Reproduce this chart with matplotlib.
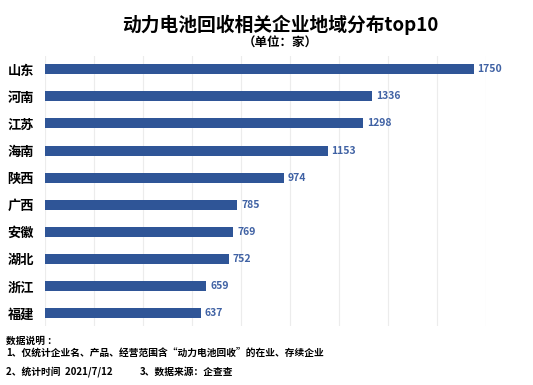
import matplotlib
matplotlib.use("Agg")
import matplotlib.pyplot as plt
from matplotlib.ticker import MultipleLocator

plt.rcParams['font.family'] = ['Noto Sans CJK SC', 'DejaVu Sans']

provinces = ["山东", "河南", "江苏", "海南", "陕西", "广西", "安徽", "湖北", "浙江", "福建"]
counts = [1750, 1336, 1298, 1153, 974, 785, 769, 752, 659, 637]

BAR = "#2f5597"
LABEL = "#4062a4"

fig = plt.figure(figsize=(5.33, 3.85), dpi=100)
ax = fig.add_axes([0.0844, 0.152, 0.8275, 0.703])

ypos = list(range(len(provinces)))
ax.barh(ypos, counts, height=0.37, color=BAR, zorder=3)
for y, v in zip(ypos, counts):
    ax.text(v + 15, y, str(v), va="center", ha="left", fontsize=7.5,
            color=LABEL, fontweight="bold", clip_on=False)

ax.set_xlim(0, 1800)
ax.set_ylim(len(provinces) - 0.5, -0.5)
ax.xaxis.set_major_locator(MultipleLocator(200))
ax.grid(axis="x", color="#ececec", linewidth=0.8, zorder=0)
ax.set_xticklabels([])
ax.tick_params(axis="x", length=0)
ax.tick_params(axis="y", length=0, pad=8)
ax.set_yticks(ypos)
ax.set_yticklabels(provinces, fontsize=9.5, fontweight="bold")
for s in ax.spines.values():
    s.set_visible(False)

fig.text(0.525, 0.935, "动力电池回收相关企业地域分布top10", ha="center", va="center",
         fontsize=13.5, fontweight="bold")
fig.text(0.525, 0.888, "（单位：家）", ha="center", va="center", fontsize=9, fontweight="bold")

fs = 7
fig.text(0.012, 0.114, "数据说明 ：", fontsize=fs, fontweight="bold", va="center")
fig.text(0.012, 0.083, "1、仅统计企业名、产品、经营范围含“动力电池回收”的在业、存续企业",
         fontsize=fs, fontweight="bold", va="center")
fig.text(0.012, 0.034, "2、统计时间  2021/7/12", fontsize=fs, fontweight="bold", va="center")
fig.text(0.263, 0.034, "3、数据来源：企查查", fontsize=fs, fontweight="bold", va="center")

fig.savefig("out.png", dpi=100)
